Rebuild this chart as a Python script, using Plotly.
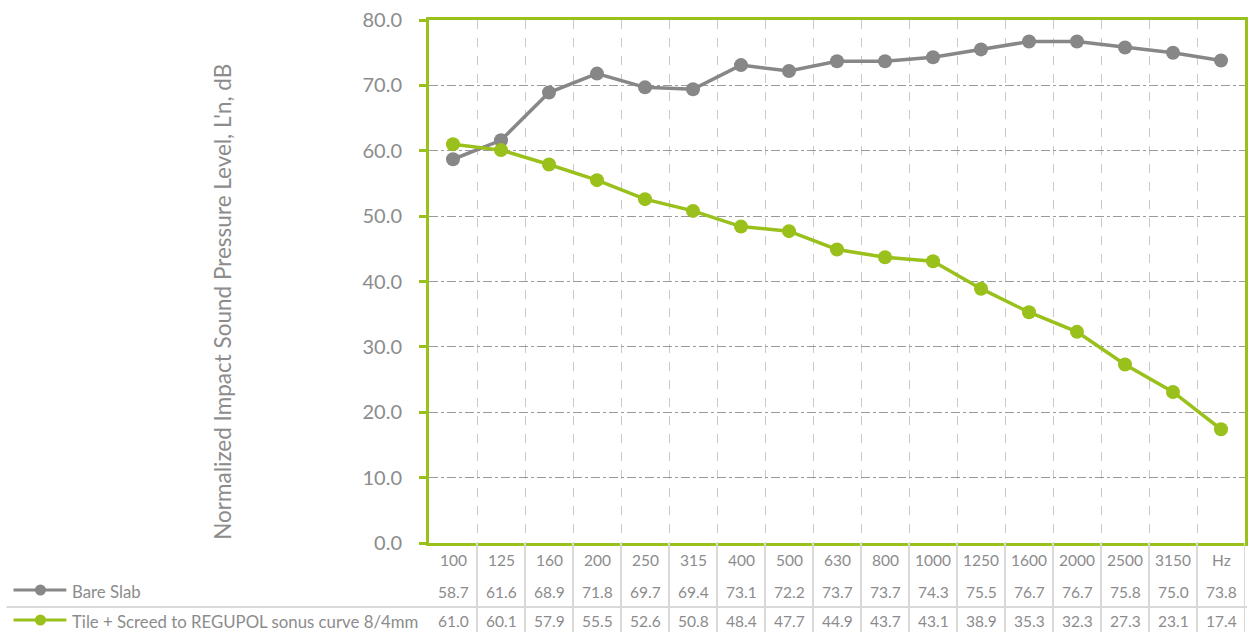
import plotly.graph_objects as go

categories = ["100", "125", "160", "200", "250", "315", "400", "500", "630", "800",
              "1000", "1250", "1600", "2000", "2500", "3150", "Hz"]
bare_slab = [58.7, 61.6, 68.9, 71.8, 69.7, 69.4, 73.1, 72.2, 73.7, 73.7,
             74.3, 75.5, 76.7, 76.7, 75.8, 75.0, 73.8]
tile_screed = [61.0, 60.1, 57.9, 55.5, 52.6, 50.8, 48.4, 47.7, 44.9, 43.7,
               43.1, 38.9, 35.3, 32.3, 27.3, 23.1, 17.4]
series_names = ["Bare Slab", "Tile + Screed to REGUPOL sonus curve 8/4mm"]
y_title = "Normalized Impact Sound Pressure Level, L'n, dB"

GRAY = "#878787"
GREEN = "#99C01B"
TXT = "#8C8C8C"
FONT = "Lato"

W, H = 1253, 632
L, R, T, B = 429, 5, 20, 89
PW = W - L - R
PH = H - T - B


def px_x(p):
    return (p - L) / PW


def px_y(p):
    return (H - B - p) / PH


fig = go.Figure()
for name, vals, col in [(series_names[0], bare_slab, GRAY), (series_names[1], tile_screed, GREEN)]:
    fig.add_trace(go.Scatter(
        x=categories, y=vals, name=name, mode="lines+markers",
        line=dict(color=col, width=3.5),
        marker=dict(color=col, size=14),
        showlegend=False,
    ))

fig.update_layout(
    width=W, height=H,
    margin=dict(l=L, r=R, t=T, b=B),
    paper_bgcolor="white", plot_bgcolor="white",
    font=dict(family=FONT, color=TXT),
)
fig.update_xaxes(
    type="category", range=[-0.5, len(categories) - 0.5],
    tickson="boundaries", showgrid=True, gridcolor="#C8C8C8", griddash="dash", gridwidth=1,
    showticklabels=False, ticks="",
    showline=True, linecolor=GREEN, linewidth=3, mirror=True, zeroline=False,
)
fig.update_yaxes(
    range=[0, 80], dtick=10, tickformat=".1f",
    showgrid=True, gridcolor="#9A9A9A", griddash="dashdot", gridwidth=1,
    ticks="outside", ticklen=7, tickcolor=GREEN, tickwidth=3,
    ticklabelstandoff=13,
    tickfont=dict(size=20, color=TXT, family=FONT),
    showline=True, linecolor=GREEN, linewidth=3, mirror=True, zeroline=False,
)

ann = []
shapes = []
row_y = [px_y(560), px_y(592), px_y(621)]
for i, c in enumerate(categories):
    ann.append(dict(x=i, y=row_y[0], xref="x", yref="paper", text=c, showarrow=False,
                    font=dict(size=15.5, color=TXT, family=FONT), xanchor="center", yanchor="middle"))
    ann.append(dict(x=i, y=row_y[1], xref="x", yref="paper", text=f"{bare_slab[i]:.1f}", showarrow=False,
                    font=dict(size=15.5, color=TXT, family=FONT), xanchor="center", yanchor="middle"))
    ann.append(dict(x=i, y=row_y[2], xref="x", yref="paper", text=f"{tile_screed[i]:.1f}", showarrow=False,
                    font=dict(size=15.5, color=TXT, family=FONT), xanchor="center", yanchor="middle"))

# table column separators
for k in range(1, len(categories) + 1):
    shapes.append(dict(type="line", xref="x", yref="paper", x0=k - 0.5, x1=k - 0.5,
                       y0=0, y1=px_y(H + 2), line=dict(color="#D9D9D9", width=2)))
# row separator
shapes.append(dict(type="line", xref="paper", yref="paper", x0=px_x(5), x1=px_x(1250),
                   y0=px_y(607), y1=px_y(607), line=dict(color="#D9D9D9", width=2)))

# legend keys in table
for name, col, yp in [(series_names[0], GRAY, 590), (series_names[1], GREEN, 620)]:
    shapes.append(dict(type="line", xref="paper", yref="paper", x0=px_x(12), x1=px_x(65),
                       y0=px_y(yp), y1=px_y(yp), line=dict(color=col, width=3.2)))
    shapes.append(dict(type="circle", xref="paper", yref="paper", x0=px_x(33.5), x1=px_x(44.5),
                       y0=px_y(yp - 5.5), y1=px_y(yp + 5.5), fillcolor=col, line=dict(color=col, width=0)))
    ann.append(dict(x=px_x(69), y=px_y(yp + 1), xref="paper", yref="paper", text=name, showarrow=False,
                    font=dict(size=16.8, color=TXT, family=FONT), xanchor="left", yanchor="middle"))

ann.append(dict(x=px_x(221), y=px_y(302), xref="paper", yref="paper", text=y_title, showarrow=False,
                textangle=-90, font=dict(size=22.5, color=TXT, family=FONT), xanchor="center", yanchor="middle"))

fig.update_layout(annotations=ann, shapes=shapes)
fig.write_html("out.html", config={"displayModeBar": False},
               post_script="document.body.style.margin='0';document.body.style.overflow='hidden';")
